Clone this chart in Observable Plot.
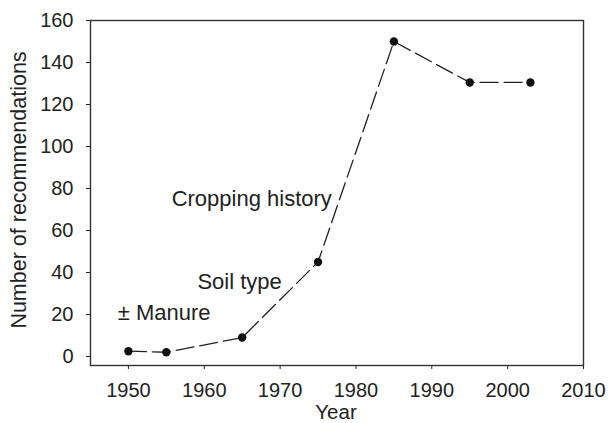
<!DOCTYPE html>
<html>
<head>
<meta charset="utf-8">
<script src="https://cdn.jsdelivr.net/npm/d3@7"></script>
<script src="https://cdn.jsdelivr.net/npm/@observablehq/plot@0.6"></script>
<style>
  html, body { margin: 0; padding: 0; background: #fff; }
  #chart svg { display: block; }
</style>
</head>
<body>
<div id="chart"></div>
<script>
// Data
const years = [1950, 1955, 1965, 1975, 1985, 1995, 2003];
const recommendations = [2.5, 2, 9, 45, 150, 130.5, 130.5];

const xTicks = [1950, 1960, 1970, 1980, 1990, 2000, 2010];
const yTicks = [0, 20, 40, 60, 80, 100, 120, 140, 160];

const noteLabels = ["Cropping history", "Soil type", "\u00B1 Manure"];
const noteYears = [1955.7, 1959.1, 1948.6];
const noteValues = [75.2, 35.5, 20.7];

const xTitle = "Year";
const yTitle = "Number of recommendations";

const series = years.map((year, i) => ({year, value: recommendations[i]}));
const notes = noteLabels.map((label, i) => ({label, year: noteYears[i], value: noteValues[i]}));

const font = "'Liberation Sans', Arial, Helvetica, sans-serif";
const ink = "#222";

const chart = Plot.plot({
  width: 608,
  height: 423,
  marginLeft: 90,
  marginRight: 25,
  marginTop: 20,
  marginBottom: 58,
  style: {fontFamily: font, fontSize: "20px", color: "#222", background: "#fff"},
  x: {
    domain: [1945, 2010],
    ticks: xTicks,
    tickFormat: "d",
    tickSize: 4,
    tickPadding: 13,
    label: null
  },
  y: {
    domain: [-4.3, 160],
    ticks: yTicks,
    tickFormat: "d",
    tickSize: 4,
    tickPadding: 13,
    label: null
  },
  marks: [
    Plot.frame({stroke: "#333", strokeWidth: 1.4}),
    Plot.line(series, {x: "year", y: "value", stroke: ink, strokeWidth: 1.3, strokeDasharray: "18,6"}),
    Plot.dot(series, {x: "year", y: "value", r: 4.2, fill: "#111", stroke: "none"}),
    Plot.text(notes, {x: "year", y: "value", text: "label", textAnchor: "start", fontSize: 22, fill: ink}),
    Plot.text([xTitle], {frameAnchor: "bottom", textAnchor: "middle", lineAnchor: "middle", dy: 47, dx: -1, fontSize: 20.5, fill: ink}),
    Plot.text([yTitle], {frameAnchor: "left", textAnchor: "middle", lineAnchor: "middle", dx: -71.5, dy: -3, rotate: -90, fontSize: 21.5, fill: ink})
  ]
});

document.getElementById("chart").appendChild(chart);
</script>
</body>
</html>
